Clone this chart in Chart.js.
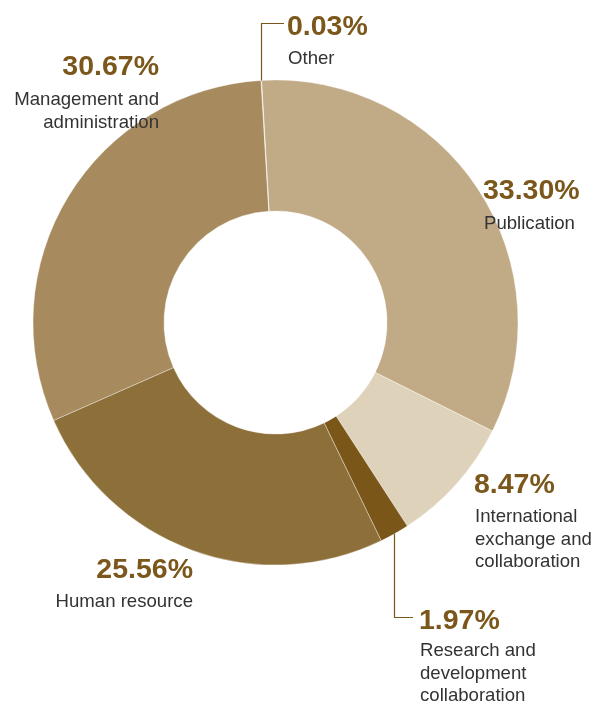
<!DOCTYPE html>
<html>
<head>
<meta charset="utf-8">
<script src="https://cdn.jsdelivr.net/npm/chart.js@4/dist/chart.umd.min.js"></script>
<style>
  html, body { margin: 0; padding: 0; background: #fff; }
  #wrap { position: relative; width: 605px; height: 710px; overflow: hidden; }
  #myChart { position: absolute; left: 0; top: 0; }
  .pct { position: absolute; font-family: "Liberation Sans", Arial, sans-serif; font-weight: bold;
         font-size: 28.5px; line-height: 28.5px; color: #7b571b; white-space: nowrap; }
  .lbl { position: absolute; font-family: "Liberation Sans", Arial, sans-serif;
         font-size: 18.6px; line-height: 22.6px; color: #333; white-space: nowrap; }
</style>
</head>
<body>
<div id="wrap">
  <canvas id="myChart" width="605" height="710"></canvas>
</div>
<script>
// data
var categories = ['Publication', 'International exchange and collaboration', 'Research and development collaboration', 'Human resource', 'Management and administration', 'Other'];
var shares = [33.30, 8.47, 1.97, 25.56, 30.67, 0.03];
var labelLines = [
  ['Publication'],
  ['International', 'exchange and', 'collaboration'],
  ['Research and', 'development', 'collaboration'],
  ['Human resource'],
  ['Management and', 'administration'],
  ['Other']
];
var colors = ['#c1aa86', '#dfd2bb', '#7b5619', '#8d6f39', '#a78b5f', '#d9c9ad'];

// where each label block sits (left or right edge, top of % text, top of label)
var labelPos = [
  {left: 483, pctTop: 175, lblTop: 212},
  {left: 474, pctTop: 469, lblTop: 505},
  {left: 419, pctTop: 605, lblTop: 639},
  {right: 412, pctTop: 554, lblTop: 590},
  {right: 446, pctTop: 51, lblTop: 88},
  {left: 287, pctTop: 11, lblTop: 47}
];

var wrap = document.getElementById('wrap');
for (var i = 0; i < categories.length; i++) {
  var p = labelPos[i];
  var pct = document.createElement('div');
  pct.className = 'pct';
  pct.textContent = shares[i].toFixed(2) + '%';
  var lbl = document.createElement('div');
  lbl.className = 'lbl';
  lbl.innerHTML = labelLines[i].join('<br>');
  if (p.right !== undefined) {
    pct.style.right = p.right + 'px';
    lbl.style.right = p.right + 'px';
    lbl.style.textAlign = 'right';
  } else {
    pct.style.left = p.left + 'px';
    lbl.style.left = (p.left + 1) + 'px';
  }
  pct.style.top = p.pctTop + 'px';
  lbl.style.top = p.lblTop + 'px';
  wrap.appendChild(pct);
  wrap.appendChild(lbl);
}

// leader lines for the two small slices
var leaders = [
  {index: 5, turnY: 23.5, endX: 284},
  {index: 2, turnY: 617.5, endX: 413}
];

var leaderPlugin = {
  id: 'leaders',
  afterDatasetsDraw: function(chart) {
    var ctx = chart.ctx;
    var arcs = chart.getDatasetMeta(0).data;
    ctx.save();
    ctx.strokeStyle = '#7b571b';
    ctx.lineWidth = 1.2;
    leaders.forEach(function(l) {
      var a = arcs[l.index];
      var mid = (a.startAngle + a.endAngle) / 2;
      var x = Math.round(a.x + a.outerRadius * Math.cos(mid)) + 0.5;
      var y = a.y + a.outerRadius * Math.sin(mid);
      ctx.beginPath();
      ctx.moveTo(x, y);
      ctx.lineTo(x, l.turnY);
      ctx.lineTo(l.endX, l.turnY);
      ctx.stroke();
    });
    ctx.restore();
  }
};

var ctx = document.getElementById('myChart').getContext('2d');

var chart = new Chart(ctx, {
  type: 'doughnut',
  data: {
    labels: categories,
    datasets: [{
      data: shares,
      backgroundColor: colors,
      borderColor: 'rgba(255,255,255,0.35)',
      borderWidth: 1
    }]
  },
  options: {
    responsive: false,
    animation: false,
    rotation: -3.3,
    cutout: '46%',
    layout: {
      padding: {left: 32.5, top: 79.5, right: 86.5, bottom: 144.5}
    },
    plugins: {
      legend: {display: false},
      tooltip: {enabled: false}
    }
  },
  plugins: [leaderPlugin]
});
</script>
</body>
</html>
